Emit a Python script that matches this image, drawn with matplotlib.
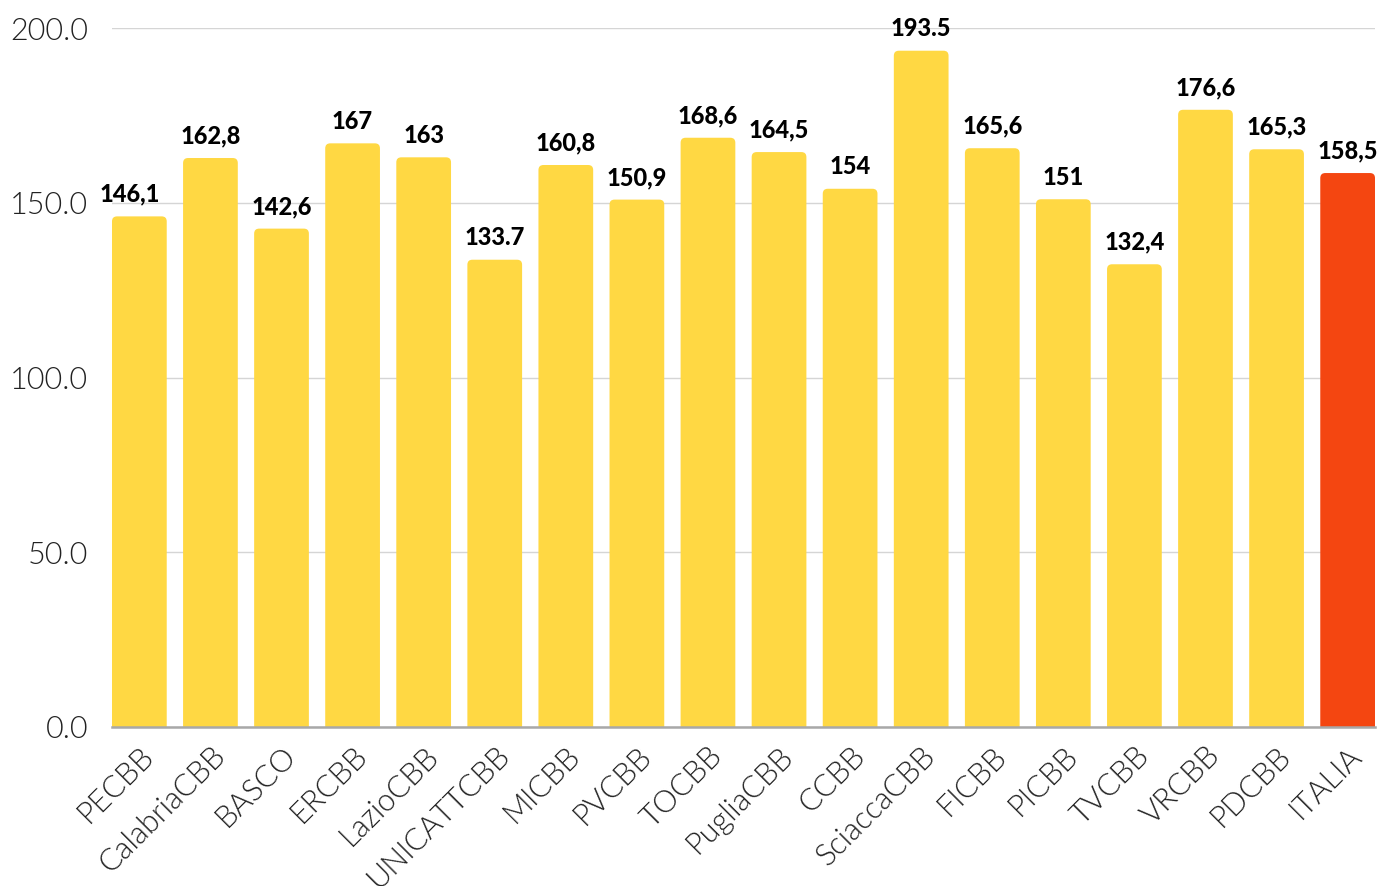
import matplotlib
matplotlib.use("Agg")
import matplotlib.pyplot as plt
from matplotlib.patches import FancyBboxPatch
from matplotlib.ticker import FormatStrFormatter
import numpy as np

categories = ["PECBB", "CalabriaCBB", "BASCO", "ERCBB", "LazioCBB", "UNICATTCBB",
              "MICBB", "PVCBB", "TOCBB", "PugliaCBB", "CCBB", "SciaccaCBB",
              "FICBB", "PICBB", "TVCBB", "VRCBB", "PDCBB", "ITALIA"]
values = [146.1, 162.8, 142.6, 167.0, 163.0, 133.7, 160.8, 150.9, 168.6, 164.5,
          154.0, 193.5, 165.6, 151.0, 132.4, 176.6, 165.3, 158.5]
value_labels = ["146,1", "162,8", "142,6", "167", "163", "133.7", "160,8", "150,9",
                "168,6", "164,5", "154", "193.5", "165,6", "151", "132,4", "176,6",
                "165,3", "158,5"]
yticks = [0, 50, 100, 150, 200]

YELLOW = "#FFD843"
RED = "#F44611"

plt.rcParams["font.family"] = ["Lato", "DejaVu Sans"]

fig = plt.figure(figsize=(13.81, 8.86), dpi=100)
ax = fig.add_axes([112 / 1381, 1 - 727 / 886, 1263 / 1381, 699 / 886])

width = 0.77
x = np.arange(len(categories))
colors = [RED if c == "ITALIA" else YELLOW for c in categories]
bars = ax.bar(x, values, width=width, color=colors, zorder=2)

ax.set_xlim(-width / 2, len(categories) - 1 + width / 2)
ax.set_ylim(0, 200)

# swap plain bars for ones with rounded top corners
px_x = 1263 / (len(categories) - 1 + width)
px_y = 699 / 200
r_px = 5
rx, ry = r_px / px_x, r_px / px_y
for bar in bars:
    bx, by = bar.get_x(), bar.get_y()
    bw, bh = bar.get_width(), bar.get_height()
    patch = FancyBboxPatch((bx, by - ry), bw, bh + ry,
                           boxstyle=f"round,pad=0,rounding_size={rx}",
                           mutation_aspect=ry / rx,
                           facecolor=bar.get_facecolor(), edgecolor="none", zorder=2)
    ax.add_patch(patch)
    bar.set_visible(False)

for i, (v, lab) in enumerate(zip(values, value_labels)):
    dx = -7 if i == 0 else 0
    ax.annotate(lab, (i, v), xytext=(dx, 16), textcoords="offset points",
                ha="center", va="center", fontsize=17, fontweight=900,
                color="black", annotation_clip=False)

ax.set_yticks(yticks)
ax.yaxis.set_major_formatter(FormatStrFormatter("%.1f"))
ax.grid(axis="y", color="#d5d5d5", linewidth=1, zorder=0)
ax.set_axisbelow(True)
for side in ["top", "right", "left"]:
    ax.spines[side].set_visible(False)
ax.spines["bottom"].set_color("#a8a8a8")
ax.spines["bottom"].set_linewidth(1.8)
ax.spines["bottom"].set_zorder(3)

ax.tick_params(axis="both", length=0)
ax.tick_params(axis="y", pad=17, labelsize=22, labelcolor="#222222")
ax.set_xticks(x)
ax.set_xticklabels(categories, rotation=45, ha="right", rotation_mode="anchor",
                   fontsize=22, color="#222222")
ax.tick_params(axis="x", pad=10)
for t in ax.get_yticklabels() + ax.get_xticklabels():
    t.set_fontweight(300)

fig.savefig("out.png", dpi=100)
